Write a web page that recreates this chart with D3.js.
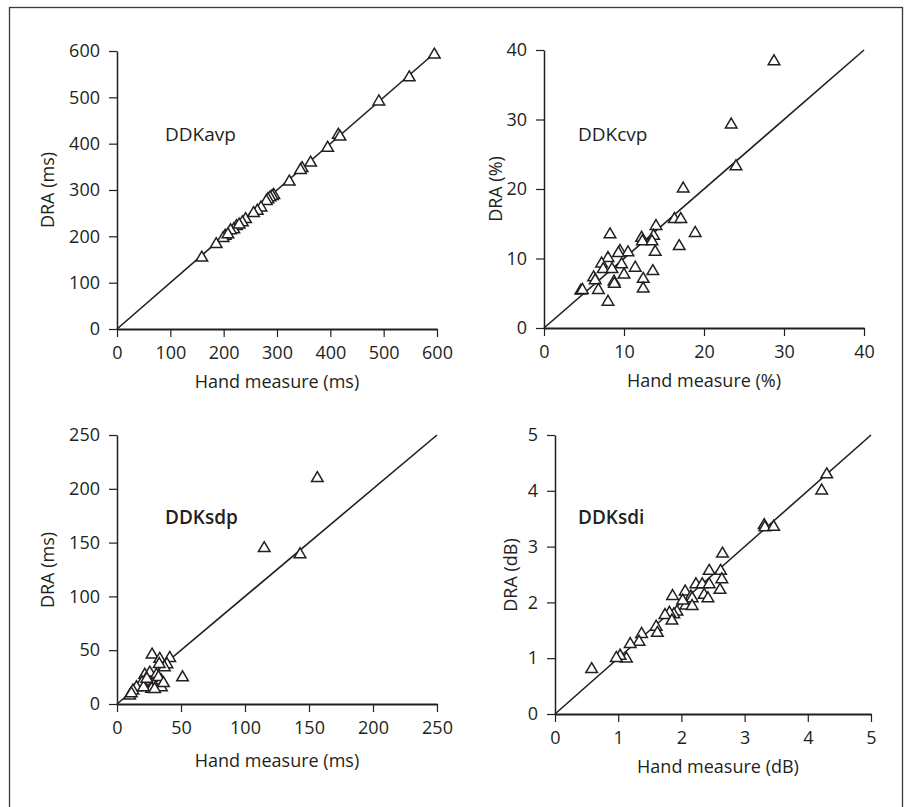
<!DOCTYPE html>
<html><head><meta charset="utf-8">
<script src="https://cdn.jsdelivr.net/npm/d3@7/dist/d3.min.js"></script>
<style>
html,body{margin:0;padding:0;background:#fff;}
svg text{font-family:"Open Sans","Noto Sans",sans-serif;fill:#231f20;}
</style></head><body>
<svg id="c" width="904" height="807"></svg>
<script>
// ---- data ----
const avpHand = [595,548,491,415,418,395,363,347,344,323,294,291,287,283,280,270,263,241,235,224,219,213,203,199,186,159,229,256,208];
const avpDRA  = [594,545,493,421,417,393,361,349,345,320,291,289,286,282,278,264,257,239,232,224,217,215,203,198,185,156,227,252,206];
const cvpHand = [28.75,23.4,24.0,17.4,16.3,17.1,18.9,14.0,16.9,8.25,12.2,13.7,12.3,13.5,13.9,9.5,10.5,9.3,8.0,7.2,9.7,11.4,7.4,8.5,10.0,13.6,6.2,6.4,8.75,8.8,12.4,12.4,4.6,4.8,6.8,8.0];
const cvpDRA  = [38.5,29.4,23.4,20.2,15.8,15.8,13.8,14.8,11.9,13.6,13.1,13.4,12.6,12.6,11.1,11.2,11.0,10.9,10.2,9.4,9.3,8.8,8.6,8.6,7.8,8.3,7.4,7.0,6.8,6.5,7.2,5.8,5.5,5.6,5.6,3.9];
const sdpHand = [156.5,115,143,51.2,27.4,33.4,41.2,39,37,33,21.7,25.6,30.8,34.7,28.2,19.6,15.2,27,34.7,12.5,9.9,11.2,20.7,23.3,32.4,36.3,29.4];
const sdpDRA  = [210.7,145.7,140,25.6,46.7,42.7,43.6,37.8,35,38,28,30,28,22.6,19.5,21,16.4,15,16.4,13.3,8.6,10.8,16.4,24.3,25.8,20.2,14.7];
const sdiHand = [4.30,4.22,3.31,3.32,3.46,2.65,2.44,2.62,2.64,2.61,2.23,2.33,2.44,2.36,2.42,2.06,1.86,2.15,2.17,2.07,2.17,2.02,1.93,1.88,1.81,1.74,1.85,1.60,1.62,1.37,1.33,1.19,1.13,1.03,0.97,0.58];
const sdiDRA  = [4.31,4.02,3.40,3.36,3.37,2.89,2.58,2.58,2.43,2.24,2.34,2.34,2.34,2.15,2.09,2.21,2.13,2.12,2.09,1.96,1.95,2.05,1.85,1.80,1.83,1.79,1.69,1.58,1.47,1.45,1.31,1.27,1.01,1.06,1.02,0.82];

const avpTicks = [0,100,200,300,400,500,600];
const cvpTicks = [0,10,20,30,40];
const sdpTicks = [0,50,100,150,200,250];
const sdiTicks = [0,1,2,3,4,5];

const panelNames = ["DDKavp","DDKcvp","DDKsdp","DDKsdi"];
const xTitles = ["Hand measure (ms)","Hand measure (%)","Hand measure (ms)","Hand measure (dB)"];
const yTitles = ["DRA (ms)","DRA (%)","DRA (ms)","DRA (dB)"];

// ---- layout ----
const panels = [
  {hand:avpHand, dra:avpDRA, ticks:avpTicks, max:600, x:[117,437], y:[329,51],  lab:[165,141], bold:false, ytx:54,  ytc:190, xtc:277, xtb:388},
  {hand:cvpHand, dra:cvpDRA, ticks:cvpTicks, max:40,  x:[544,864], y:[328,50],  lab:[578,141], bold:false, ytx:502, ytc:189, xtc:704, xtb:387},
  {hand:sdpHand, dra:sdpDRA, ticks:sdpTicks, max:250, x:[117,437], y:[704,435], lab:[165,524], bold:true,  ytx:54,  ytc:570, xtc:277, xtb:767},
  {hand:sdiHand, dra:sdiDRA, ticks:sdiTicks, max:5,   x:[555,871], y:[714,435], lab:[578,524], bold:true,  ytx:517, ytc:575, xtc:718, xtb:773}
];

const svg = d3.select("#c");
svg.append("rect").attr("x",9.5).attr("y",7.5).attr("width",893).attr("height",820)
  .attr("fill","none").attr("stroke","#3a3a3a").attr("stroke-width",1.3);

const ink = "#231f20";
const tri = "M0,-5.6L5.8,4.3L-5.8,4.3Z";

panels.forEach((p,i)=>{
  const xs = d3.scaleLinear().domain([0,p.max]).range(p.x);
  const ys = d3.scaleLinear().domain([0,p.max]).range(p.y);
  const g = svg.append("g");

  const ax = g.append("g").attr("transform",`translate(0,${p.y[0]})`)
    .call(d3.axisBottom(xs).tickValues(p.ticks).tickSize(8).tickSizeOuter(0).tickPadding(9).tickFormat(d3.format("d")));
  ax.select(".domain").attr("stroke",ink).attr("stroke-width",2);
  ax.selectAll(".tick line").attr("stroke",ink).attr("stroke-width",1.2);
  ax.selectAll(".tick text").attr("font-size",18).attr("fill",ink);

  const ay = g.append("g").attr("transform",`translate(${p.x[0]},0)`)
    .call(d3.axisLeft(ys).tickValues(p.ticks).tickSize(8).tickSizeOuter(0).tickPadding(9).tickFormat(d3.format("d")));
  ay.select(".domain").attr("stroke",ink).attr("stroke-width",1.5);
  ay.selectAll(".tick line").attr("stroke",ink).attr("stroke-width",1.2);
  ay.selectAll(".tick text").attr("font-size",18).attr("fill",ink);
  g.selectAll(".domain").attr("fill","none");
  g.selectAll("g text").attr("font-family",null);

  // identity line
  g.append("line").attr("x1",xs(0)).attr("y1",ys(0)).attr("x2",xs(p.max)).attr("y2",ys(p.max))
    .attr("stroke",ink).attr("stroke-width",1.6);

  // points
  g.selectAll("path.pt").data(p.hand.map((h,k)=>[h,p.dra[k]])).join("path")
    .attr("class","pt").attr("d",tri)
    .attr("transform",d=>`translate(${xs(d[0])},${ys(d[1])})`)
    .attr("fill","#fff").attr("stroke",ink).attr("stroke-width",1.5).attr("stroke-linejoin","miter");

  g.append("text").attr("x",p.lab[0]).attr("y",p.lab[1]).attr("font-size",19)
    .attr("font-weight",p.bold?600:400).text(panelNames[i]);

  g.append("text").attr("x",p.xtc).attr("y",p.xtb).attr("text-anchor","middle").attr("font-size",18).text(xTitles[i]);
  g.append("text").attr("transform",`translate(${p.ytx},${p.ytc}) rotate(-90)`).attr("text-anchor","middle").attr("font-size",18).text(yTitles[i]);
});
</script>
</body></html>
